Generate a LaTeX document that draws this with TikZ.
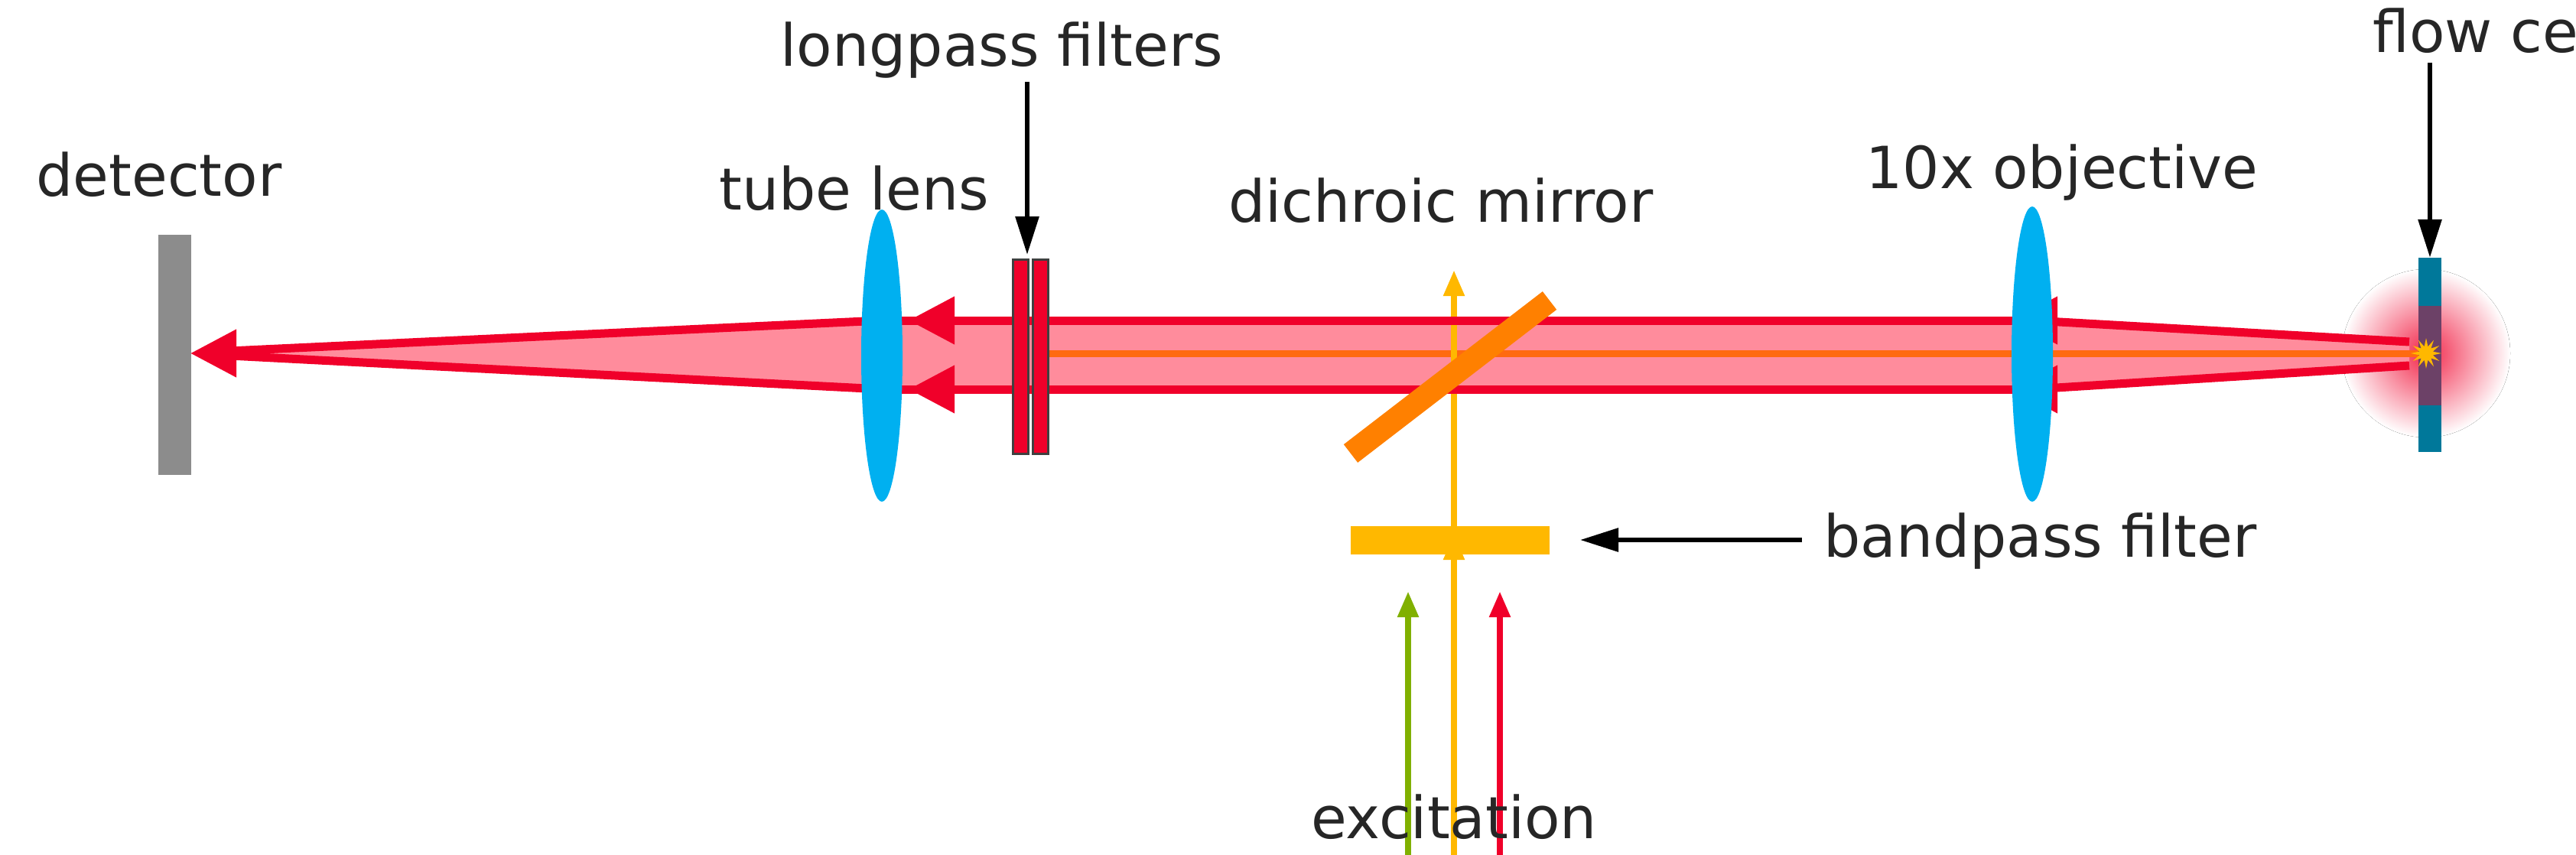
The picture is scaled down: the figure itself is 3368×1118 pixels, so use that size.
\documentclass[tikz,border=0pt]{standalone}
\usepackage{fontspec}
\setmainfont{DejaVu Sans}
\usetikzlibrary{shapes.geometric,arrows.meta}
\definecolor{rl}{HTML}{F0002A}
\definecolor{pk}{HTML}{FF8C9C}
\definecolor{om}{HTML}{FF8000}
\definecolor{ol}{HTML}{FF6A10}
\definecolor{yl}{HTML}{FFB800}
\definecolor{bl}{HTML}{00B0F0}
\definecolor{fc}{HTML}{00789A}
\definecolor{gy}{HTML}{8C8C8C}
\definecolor{gr}{HTML}{80B000}
\definecolor{tx}{HTML}{262626}
\tikzset{
 lbl/.style={font=\fontsize{76}{90}\selectfont, text=tx, inner sep=0pt},
 ray/.style={draw=rl, line width=11pt},
 rayarrow/.style={ray, -{Triangle[length=60pt,width=60pt]}},
 pointer/.style={draw=black, line width=6pt, -{Triangle[length=50pt,width=30pt]}},
 lensshape/.style={ellipse, fill=bl, minimum width=54pt, minimum height=382pt, inner sep=0pt},
 exc/.style={line width=8pt, -{Triangle[length=34pt,width=26pt]}},
}
\begin{document}
\begin{tikzpicture}[x=1pt,y=-1pt]
\useasboundingbox (0,0) rectangle (3368,1118);
\coordinate (focus) at (3172,462);
\coordinate (det) at (249,462);
\fill[inner color=rl!85, outer color=white] (focus) circle (110);
\fill[pk] (det) -- (1153,419) -- (2657,419) -- (3150,445) -- (3150,480) -- (2657,509) -- (1153,509) -- cycle;
\draw[ol, line width=9pt] (1368,462) -- (focus);
\coordinate (ybot) at (1901,1177);
\coordinate (ymid) at (1901,698);
\coordinate (ytop) at (1901,353);
\draw[yl, exc] (ybot) -- (ymid);
\draw[yl, exc] (ymid) -- (ytop);
\draw[ray] (3150,447) -- (2657,419);
\draw[ray] (3150,478) -- (2657,509);
\draw[rayarrow] (2680,419) -- (2630,419);
\draw[rayarrow] (2680,509) -- (2630,509);
\draw[ray] (2657,419) -- (1153,419);
\draw[ray] (2657,509) -- (1153,509);
\draw[rayarrow] (1260,419) -- (1188,419);
\draw[rayarrow] (1260,509) -- (1188,509);
\draw[ray] (1153,419) -- (300,459);
\draw[ray] (1153,509) -- (300,465);
\node[fill=gy, minimum width=43pt, minimum height=314pt, inner sep=0pt] (detector) at (228,464) {};
\draw[rayarrow] (340,462) -- (det);
\node[lensshape] (tubelens) at (1153,465) {};
\node[lensshape, minimum height=386pt] (objective) at (2657,463) {};
\node[draw=black!75, line width=3pt, fill=rl, minimum width=20pt, minimum height=254pt, inner sep=0pt] (lp1) at (1334,466) {};
\node[draw=black!75, line width=3pt, fill=rl, minimum width=20pt, minimum height=254pt, inner sep=0pt] (lp2) at (1360,466) {};
\draw[om, line width=30pt] (1766,593) -- (2026,393);
\node[fill=yl, minimum width=260pt, minimum height=37pt, inner sep=0pt] (bandpass) at (1896,706) {};
\draw[gr, exc] (1841,1177) -- (1841,773);
\draw[rl, exc] (1961,1177) -- (1961,773);
\node[fill=fc, minimum width=30pt, minimum height=254pt, inner sep=0pt] (flowcell) at (3177,464) {};
\fill[rl, opacity=0.45] (3162,400) rectangle (3192,530);
\node[star, star points=12, star point ratio=2.2, fill=yl, minimum size=40pt, inner sep=0pt] (spark) at (focus) {};
\node[lbl] (tdet) at (208,228) {detector};
\node[lbl] (ttube) at (1117,246) {tube lens};
\node[lbl] (tlong) at (1310,66) {longpass filters};
\node[lbl] (tdich) at (1884,262) {dichroic mirror};
\node[lbl] (tobj) at (2696,226) {10x objective};
\node[lbl] (tflow) at (3258,40) {flow cell};
\node[lbl, anchor=west] (tband) at (2384,708) {bandpass filter};
\node[lbl] (texc) at (1901,1068) {excitation};
\coordinate (lpa) at (1343,107);
\coordinate (lpb) at (1343,333);
\draw[pointer] (lpa) -- (lpb);
\coordinate (fca) at (3177,82);
\draw[pointer] (fca) -- (flowcell.north);
\coordinate (bpa) at (2356,706);
\coordinate (bpb) at (2066,706);
\draw[pointer] (bpa) -- (bpb);
\end{tikzpicture}
\end{document}
